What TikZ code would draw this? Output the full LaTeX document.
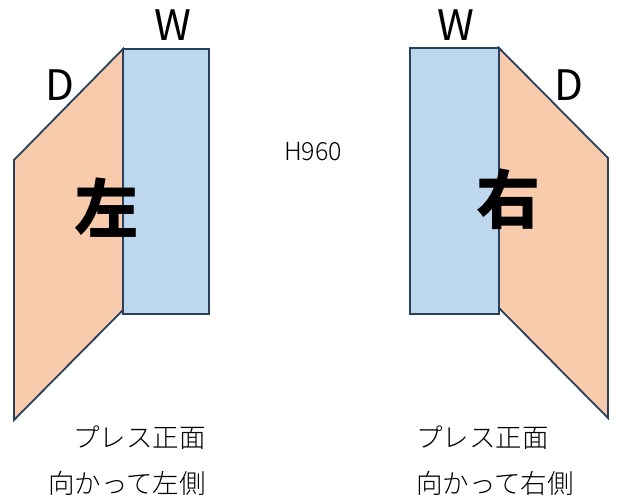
\documentclass[tikz,border=0pt]{standalone}
\usepackage{fontspec}
\setmainfont{Noto Sans CJK JP}
\newfontfamily\notefont{Noto Sans CJK JP Light}
\usetikzlibrary{positioning}

\definecolor{sideface}{RGB}{248,203,173}
\definecolor{frontface}{RGB}{189,215,238}
\definecolor{edgeline}{RGB}{40,64,92}

\begin{document}
\begin{tikzpicture}[x=1pt,y=-1pt,line join=miter,
	side panel/.style={draw=edgeline,fill=sideface,line width=1.8pt},
	front panel/.style={draw=edgeline,fill=frontface,line width=1.8pt},
	dim label/.style={inner sep=0pt,font=\fontsize{42}{46}\selectfont},
	kanji label/.style={inner sep=0pt,font=\fontsize{64}{70}\selectfont\bfseries},
	note label/.style={inner sep=0pt,font=\notefont\fontsize{26.5}{30}\selectfont}]
	
	\useasboundingbox (0,0) rectangle (619,500);
	
	% left side
	\coordinate (lt) at (123,49);
	\coordinate (lb) at (123,310);
	\draw[side panel] (14,160) -- (lt) -- (lb) -- (14,420) -- cycle;
	\draw[front panel] (123,49) rectangle (209,314);
	
	% right side
	\coordinate (rt) at (499,48);
	\coordinate (rb) at (499,308);
	\draw[side panel] (rt) -- (608,158) -- (608,418) -- (rb) -- cycle;
	\draw[front panel] (410,48) rectangle (499,314);
	
	\node[dim label] (lw) at (173,25) {W};
	\node[dim label] (ld) at (60,85) {D};
	\node[dim label] (rw) at (456,25) {W};
	\node[dim label] (rd) at (569,85) {D};
	\node[kanji label] (lk) at (106,208) {左};
	\node[kanji label] (rk) at (508,199) {右};
	\node[inner sep=0pt,font=\notefont\fontsize{25}{28}\selectfont] (h) at (313,152) {H960};
	
	\node[note label,anchor=east] (lf) at (206,438) {プレス正面};
	\node[note label,anchor=east] (ls) at (206,483) {向かって左側};
	\node[note label,anchor=west] (rf) at (416,438) {プレス正面};
	\node[note label,anchor=west] (rs) at (416,483) {向かって右側};
\end{tikzpicture}
\end{document}
